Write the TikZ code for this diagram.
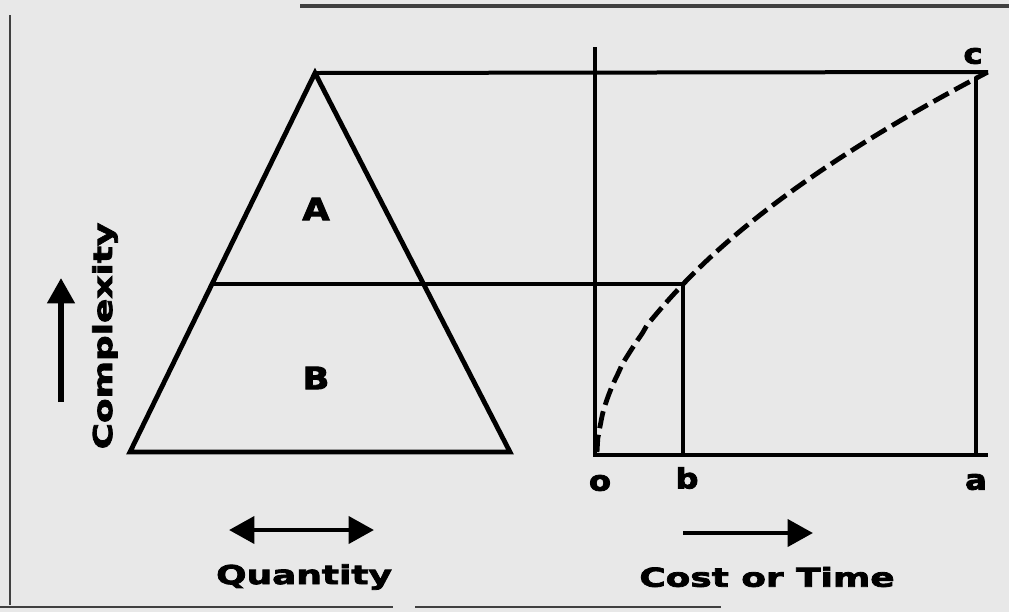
\documentclass[tikz,border=0pt]{standalone}
\usepackage{fontspec}
\newfontfamily\diagfont[FakeStretch=1.38, FakeBold=3]{DejaVu Sans Bold}
\newfontfamily\markfont[FakeStretch=1.15, FakeBold=3]{DejaVu Sans Bold}
\usetikzlibrary{arrows.meta}
\tikzset{every picture/.style={line width=0.75pt}}

\begin{document}
\begin{tikzpicture}[
            x=0.75pt,
            y=0.75pt,
            yscale=-1,
            xscale=1,
            every node/.style={text=black},
            thickline/.style={line width=3.6pt, line join=miter},
            axisline/.style={line width=2.6pt},
            thinline/.style={line width=2.4pt},
            curveline/.style={line width=3.6pt, dash pattern=on 13pt off 5pt},
            framepart/.style={line width=1.5pt, black!75},
            bigarrow/.style={line width=4.2pt, -{Triangle[length=19pt,width=20pt]}},
            axislabel/.style={font=\diagfont\fontsize{19.5}{20}\selectfont, inner sep=0pt},
            pointlabel/.style={font=\markfont\fontsize{21}{21}\selectfont, inner sep=0pt},
            arealabel/.style={font=\markfont\fontsize{23}{24}\selectfont, inner sep=0pt}
        ]
            \useasboundingbox (0,0) rectangle (1009,612);
            \fill[black!9] (0,0) rectangle (1009,612);
            % scan edges
            \draw[framepart] (10,15) -- (10,605);
            \draw[framepart, line width=2.5pt] (300,6) -- (1009,6);
            \draw[framepart] (0,607) -- (393,607);
            \draw[framepart] (415,607) -- (721,607);
            % points
            \coordinate (apex) at (315,73);
            \coordinate (bl) at (130,452);
            \coordinate (br) at (510,452);
            \coordinate (mid) at (212,284);
            \coordinate (origin) at (595,455);
            \coordinate (ytop) at (595,47);
            \coordinate (xend) at (988,455);
            \coordinate (ptb) at (683,284);
            \coordinate (footb) at (683,455);
            \coordinate (pta) at (976,77);
            \coordinate (foota) at (976,455);
            \coordinate (ptc) at (988,72);
            % pyramid
            \draw[thickline] (apex) -- (bl) -- (br) -- cycle;
            \draw[thickline, line width=3pt] (apex) -- (ptc);
            \draw[thinline] (mid) -- (ptb);
            \node (lblA) [arealabel] at (316,209) {A};
            \node (lblB) [arealabel] at (316,378) {B};
            % cost graph
            \draw[axisline] (ytop) -- (origin) -- (xend);
            \draw[thinline] (ptb) -- (footb);
            \draw[thinline] (pta) -- (foota);
            \draw[curveline] (597,452) -- plot[domain=0.002:1, samples=80, smooth] ({597+391*\x},{452-380*(\x)^0.54});
            \node (lblo) [pointlabel] at (600,483) {o};
            \node (lblb) [pointlabel] at (687,478) {b};
            \node (lbla) [pointlabel] at (976,482) {a};
            \node (lblc) [pointlabel] at (973,56) {c};
            % arrows and axis names
            \coordinate (cxlow) at (61,402);
            \coordinate (cxhigh) at (61,278);
            \draw[bigarrow] (cxlow) -- (cxhigh);
            \node (cxname) [axislabel, rotate=90] at (105,336) {Complexity};
            \coordinate (qleft) at (229,530);
            \coordinate (qright) at (374,530);
            \draw[bigarrow, line width=3.6pt, {Triangle[length=19pt,width=20pt]}-{Triangle[length=19pt,width=20pt]}] (qleft) -- (qright);
            \node (qname) [axislabel] at (304,577) {Quantity};
            \coordinate (ctstart) at (683,533);
            \coordinate (ctend) at (813,533);
            \draw[bigarrow, line width=3.6pt] (ctstart) -- (ctend);
            \node (ctname) [axislabel] at (767,577) {Cost or Time};
        \end{tikzpicture}
\end{document}
